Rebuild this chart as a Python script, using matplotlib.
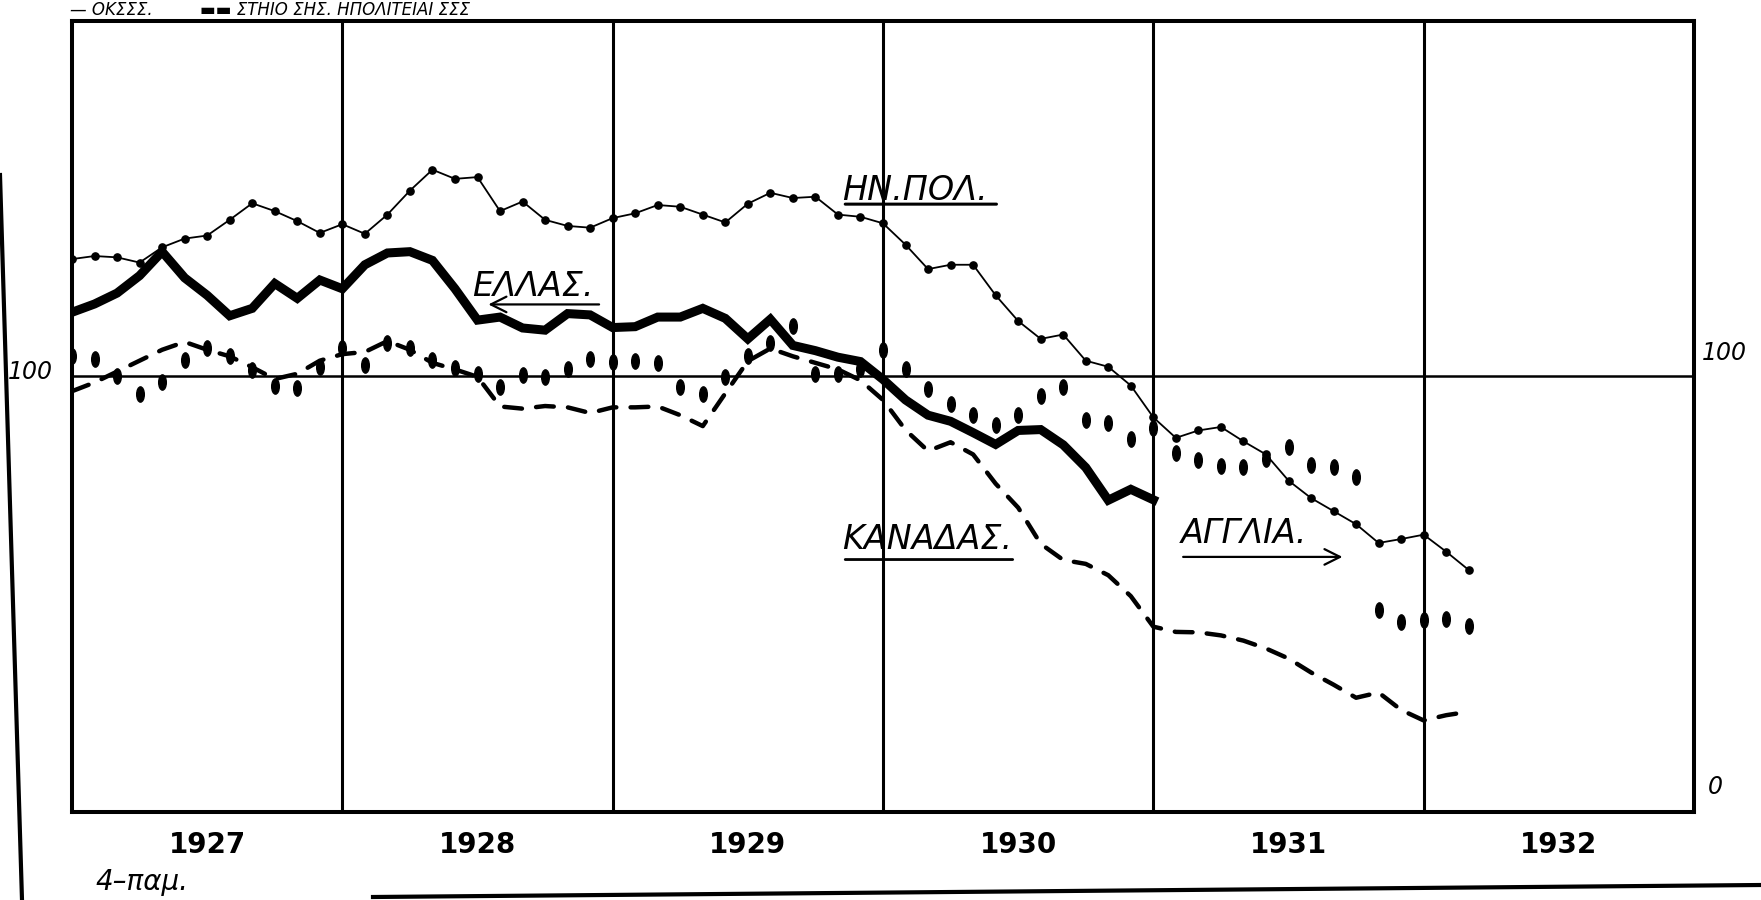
import numpy as np
import matplotlib.pyplot as plt
from matplotlib.path import Path
from matplotlib.lines import Line2D

# Monthly index values, Jan 1927 onwards (100 = base)
usa = [126.8, 127.5, 127.2, 126.0, 129.5, 131.5, 132.2, 135.8, 139.6, 137.8, 135.5, 132.8,
       134.8, 132.6, 137.0, 142.5, 147.3, 145.2, 145.6, 137.8, 140.0, 135.8, 134.4, 134.0,
       136.2, 137.3, 139.2, 138.8, 137.0, 135.2, 139.5, 142.0, 140.8, 141.1, 137.0, 136.5,
       135.0, 130.1, 124.5, 125.5, 125.5, 118.5, 112.6, 108.5, 109.5, 103.5, 102.1, 97.8,
       90.5, 85.8, 87.5, 88.3, 85.0, 82.0, 76.0, 72.0, 69.0, 66.0, 61.7, 62.6,
       63.6, 59.7, 55.5]

greece = [114.6, 116.5, 119.0, 123.0, 128.5, 122.5, 118.5, 113.8, 115.5, 121.2, 117.8, 122.0,
          120.0, 125.5, 128.2, 128.5, 126.5, 120.0, 112.8, 113.5, 111.0, 110.5, 114.3, 114.0,
          111.1, 111.3, 113.5, 113.5, 115.5, 113.2, 108.5, 113.0, 107.0, 105.8, 104.3, 103.3,
          99.2, 94.5, 91.0, 89.6, 87.0, 84.3, 87.5, 87.7, 84.2, 79.0, 71.5, 74.0,
          71.6]

canada = [96.5, 98.5, 101.0, 103.5, 106.0, 107.8, 106.0, 104.5, 102.0, 99.3, 100.5, 103.5,
          105.0, 105.5, 108.0, 106.0, 103.0, 101.5, 99.8, 93.0, 92.5, 93.1, 92.8, 91.5,
          92.8, 92.8, 93.0, 91.0, 88.5, 96.0, 103.4, 106.3, 104.5, 103.0, 101.5, 99.0,
          94.5, 87.6, 82.8, 84.8, 82.0, 75.3, 69.8, 61.5, 57.8, 56.9, 54.3, 49.5,
          42.5, 41.3, 41.2, 40.5, 39.3, 37.5, 35.2, 32.0, 29.2, 26.2, 27.4, 23.4,
          21.0, 22.2, 23.0]

england = [104.5, 104.0, 100.0, 95.8, 98.5, 103.7, 106.5, 104.5, 101.3, 97.8, 97.3, 102.0,
           106.3, 102.5, 107.5, 106.5, 103.6, 101.8, 100.4, 97.5, 100.3, 99.8, 101.5, 103.9,
           103.3, 103.5, 103.0, 97.5, 95.8, 99.8, 104.5, 107.5, 111.5, 100.5, 100.5, 101.5,
           106.0, 101.5, 97.0, 93.5, 91.0, 88.7, 91.0, 95.4, 97.5, 90.0, 89.3, 85.5,
           88.0, 82.3, 80.8, 79.3, 79.2, 81.0, 83.7, 79.6, 79.2, 76.9, 46.3, 43.6,
           44.0, 44.2, 42.6]

years = [1927, 1928, 1929, 1930, 1931, 1932]

def months(vals):
    return 1927 + np.arange(len(vals)) / 12.0

fig = plt.figure(figsize=(17.61, 9), dpi=100)
ax = fig.add_axes([72 / 1761, 88 / 900, (1694 - 72) / 1761, (812 - 21) / 900])
ax.set_xlim(1927, 1933)
ax.set_ylim(0, 181.4)

# grid: year columns and the 100 line
for y in years[1:]:
    ax.axvline(y, color='black', lw=2.2, zorder=1)
ax.axhline(100, color='black', lw=1.8, zorder=1)
for s in ax.spines.values():
    s.set_linewidth(2.9)

# ellipse marker for the England series
ell = Path(Path.unit_circle().vertices * [0.5, 1.0], Path.unit_circle().codes)

ax.plot(months(usa), usa, color='black', lw=1.3, marker='o', ms=5.2, zorder=4)
ax.plot(months(greece), greece, color='black', lw=6.5, solid_joinstyle='miter', zorder=3)
ax.plot(months(canada), canada, color='black', lw=3.2, linestyle=(0, (4.0, 3.2)),
        dash_capstyle='round', zorder=3)
ax.plot(months(england), england, linestyle='none', marker=ell, ms=11, color='black', zorder=3)

# labels
lbl = dict(fontsize=24, style='italic', color='black')
ax.text(1929.85, 140.4, "ΗΝ.ΠΟΛ.", ha='left', va='baseline', **lbl)
ax.annotate("", xy=(1929.85, 139.4), xytext=(1930.43, 139.4),
            arrowprops=dict(arrowstyle='-', lw=2.2, color='black'))
ax.text(1928.48, 118.3, "ΕΛΛΑΣ.", ha='left', va='baseline', **lbl)
ax.annotate("", xy=(1928.53, 116.4), xytext=(1928.96, 116.4),
            arrowprops=dict(arrowstyle='->', lw=1.6, color='black', mutation_scale=28))
ax.text(1929.85, 60.3, "ΚΑΝΑΔΑΣ.", ha='left', va='baseline', **lbl)
ax.annotate("", xy=(1929.85, 57.9), xytext=(1930.49, 57.9),
            arrowprops=dict(arrowstyle='-', lw=2.0, color='black'))
ax.text(1931.10, 61.7, "ΑΓΓΛΙΑ.", ha='left', va='baseline', **lbl)
ax.annotate("", xy=(1931.71, 58.5), xytext=(1931.10, 58.5),
            arrowprops=dict(arrowstyle='->', lw=1.6, color='black', mutation_scale=28))

num = dict(fontsize=17, style='italic', color='black', clip_on=False)
ax.text(1926.93, 100.8, "100", ha='right', va='center', **num)
ax.text(1933.03, 105.2, "100", ha='left', va='center', **num)
ax.text(1933.05, 5.7, "0", ha='left', va='center', **num)

ax.set_yticks([])
ax.set_xticks([y + 0.5 for y in years])
ax.set_xticklabels([str(y) for y in years], fontsize=20, fontweight='bold')
ax.tick_params(axis='x', length=0, pad=14)

# heading strip at the top edge of the scan (mostly cut off in the original)
fig.text(70 / 1761, 1 - 1 / 900, "— ΟΚΣΣΣ.", fontsize=12, style='italic', va='top')
fig.text(200 / 1761, 1 - 1 / 900, "▬▬ ΣΤΗΙΟ ΣΗΣ. ΗΠΟΛΙΤΕΙΑΙ ΣΣΣ", fontsize=12,
         style='italic', va='top')

# signature and page edges
fig.text(95 / 1761, 4 / 900, "4–παμ.", fontsize=20, style='italic', va='bottom')
fig.add_artist(Line2D([0 / 1761, 22 / 1761], [1 - 175 / 900, 0], color='black', lw=3,
                      transform=fig.transFigure))
fig.add_artist(Line2D([373 / 1761, 1], [1 - 897 / 900, 1 - 885 / 900], color='black', lw=3,
                      transform=fig.transFigure))

fig.savefig("out.png", dpi=100, facecolor='white')
